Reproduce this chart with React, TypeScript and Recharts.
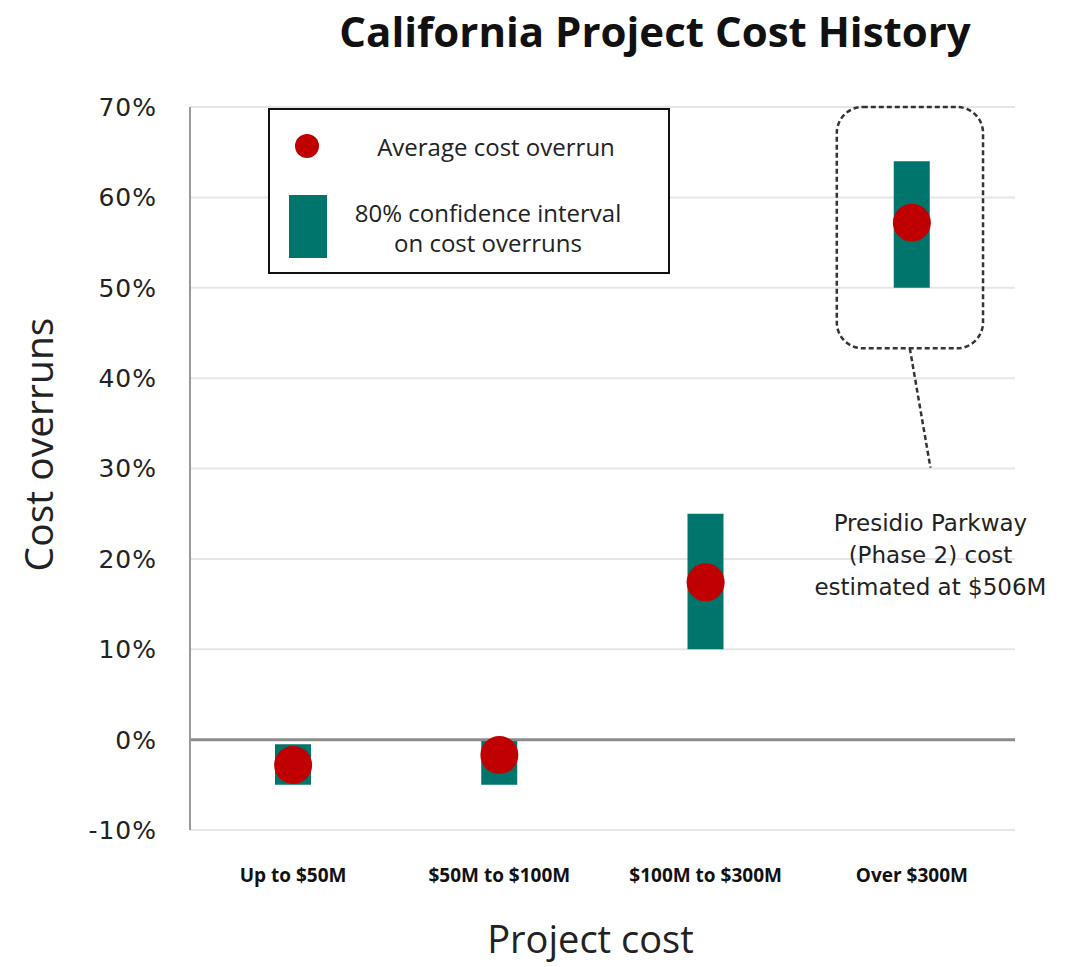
import React from 'react';
import {
  ComposedChart, Bar, Scatter, XAxis, YAxis, CartesianGrid, Legend,
  ReferenceLine, ReferenceArea, ReferenceDot,
} from 'recharts';

const categories = ['Up to $50M', '$50M to $100M', '$100M to $300M', 'Over $300M'];
const ciLow = [-5, -5, 10, 50];
const ciHigh = [-0.5, 0, 25, 64];
const avgOverrun = [-2.8, -1.7, 17.4, 57.2];
const yTicks = [-10, 0, 10, 20, 30, 40, 50, 60, 70];
const annotationLines = ['Presidio Parkway', '(Phase 2) cost', 'estimated at $506M'];

const TEAL = '#00756B';
const RED = '#C00000';
const FONT = '"Open Sans", "Noto Sans", sans-serif';
const WIDE = '"DejaVu Sans", sans-serif';

const data = categories.map((name, i) => ({
  idx: i,
  name,
  range: [ciLow[i], ciHigh[i]],
  avg: avgOverrun[i],
}));

const renderLegend = () => (
  <div style={{ width: 402, height: 166, border: '2px solid #111', boxSizing: 'border-box', background: '#fff' }}>
    <svg width={398} height={162} style={{ display: 'block' }}>
      <circle cx={37} cy={36} r={12} fill={RED} />
      <text x={226} y={36} textAnchor="middle" dominantBaseline="central" fontSize={24} fontFamily={FONT} fill="#222">
        Average cost overrun
      </text>
      <rect x={19} y={85} width={38} height={63} fill={TEAL} />
      <text x={218} y={102} textAnchor="middle" dominantBaseline="central" fontSize={24} fontFamily={FONT} fill="#222">
        80% confidence interval
      </text>
      <text x={218} y={132} textAnchor="middle" dominantBaseline="central" fontSize={24} fontFamily={FONT} fill="#222">
        on cost overruns
      </text>
    </svg>
  </div>
);

const DotShape = (props: any) => <circle cx={props.cx} cy={props.cy} r={19} fill={RED} />;

const CalloutBox = (props: any) => (
  <rect
    x={props.x}
    y={props.y}
    width={props.width}
    height={props.height}
    rx={26}
    ry={26}
    fill="none"
    stroke="#333"
    strokeWidth={2.5}
    strokeDasharray="5 3"
  />
);

const AnnotationText = (props: any) => {
  const vb = props.viewBox || {};
  const cx = vb.x + (vb.width || 0) / 2;
  const cy = vb.y + (vb.height || 0) / 2;
  return (
    <text x={cx} y={cy} textAnchor="middle" fontSize={23} fontFamily={WIDE} fill="#222">
      {annotationLines.map((line, i) => (
        <tspan key={i} x={cx} y={cy + (i - 1) * 32} dominantBaseline="central">
          {line}
        </tspan>
      ))}
    </text>
  );
};

const YLabel = (props: any) => {
  const vb = props.viewBox;
  const x = 37;
  const y = vb.y + vb.height / 2 - 24;
  return (
    <text x={x} y={y} transform={`rotate(-90, ${x}, ${y})`} textAnchor="middle" dominantBaseline="central"
      fontSize={39} fontFamily={FONT} fill="#222">
      Cost overruns
    </text>
  );
};

const XLabel = (props: any) => {
  const vb = props.viewBox;
  const x = vb.x + vb.width / 2 - 12;
  return (
    <text x={x} y={938} textAnchor="middle" dominantBaseline="central" fontSize={38} fontFamily={FONT} fill="#222">
      Project cost
    </text>
  );
};

export default function App() {
  return (
    <div style={{ position: 'absolute', left: 0, top: 0, width: 1072, height: 967, background: '#fff' }}>
      <div style={{
        position: 'absolute', left: 0, top: 6, width: 1310, textAlign: 'center',
        fontFamily: FONT, fontWeight: 700, fontSize: 42, lineHeight: '50px', color: '#111',
      }}>
        California Project Cost History
      </div>
      <ComposedChart width={1072} height={967} data={data} margin={{ top: 107, right: 57, bottom: 0, left: 0 }}>
        <CartesianGrid horizontal vertical={false} stroke="#e6e6e6" strokeWidth={2} />
        <XAxis
          dataKey="idx"
          type="number"
          domain={[-0.5, 3.5]}
          ticks={[0, 1, 2, 3]}
          tickFormatter={(i: number) => categories[i]}
          height={137}
          axisLine={false}
          tickLine={false}
          tickMargin={33}
          tick={{ fontSize: 19, fontWeight: 700, fontFamily: FONT, fill: '#111' }}
          label={<XLabel />}
        />
        <YAxis
          type="number"
          domain={[-10, 70]}
          ticks={yTicks}
          width={190}
          tickFormatter={(v: number) => `${v}%`}
          axisLine={{ stroke: '#999', strokeWidth: 2 }}
          tickLine={false}
          tickMargin={27}
          tick={{ fontSize: 25, fontFamily: WIDE, fill: '#222', letterSpacing: 1 }}
          label={<YLabel />}
        />
        <ReferenceLine y={0} stroke="#8c8c8c" strokeWidth={3} />
        <Legend layout="vertical" align="center" verticalAlign="middle" content={renderLegend}
          wrapperStyle={{ left: 268, top: 108, width: 402, height: 166 }} />
        <Bar dataKey="range" barSize={36} fill={TEAL} isAnimationActive={false} legendType="none" />
        <Scatter dataKey="avg" shape={DotShape} isAnimationActive={false} legendType="none" />
        <ReferenceArea x1={2.636} x2={3.345} y1={43.3} y2={70} ifOverflow="visible" shape={CalloutBox} />
        <ReferenceLine segment={[{ x: 2.99, y: 43.3 }, { x: 3.09, y: 30.1 }]} stroke="#333" strokeWidth={2.5}
          strokeDasharray="5 3" ifOverflow="visible" />
        <ReferenceDot x={3.09} y={20.4} r={0} fill="none" stroke="none" ifOverflow="visible" label={<AnnotationText />} />
      </ComposedChart>
    </div>
  );
}
